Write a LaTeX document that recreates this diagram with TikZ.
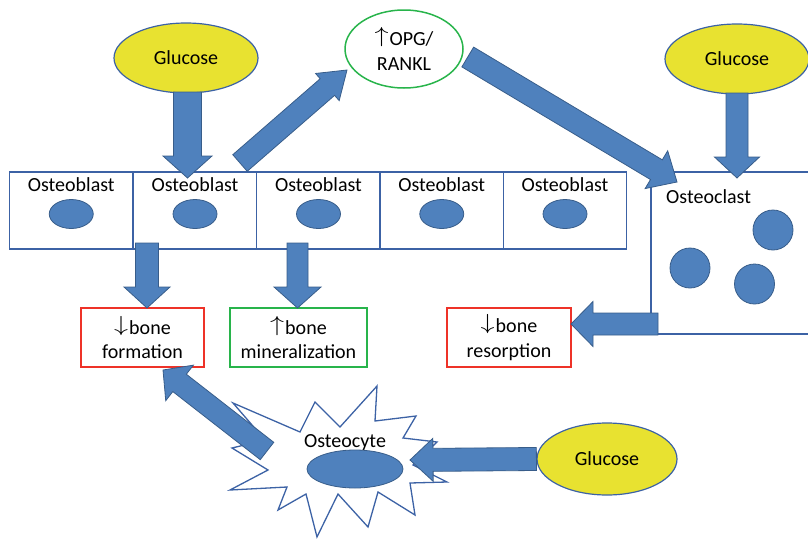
\documentclass[tikz,border=0pt]{standalone}
\usepackage{fontspec}
\usepackage{graphicx}
\setmainfont{Carlito}
\usetikzlibrary{calc,shapes.geometric}
\definecolor{abl}{RGB}{79,129,189}
\definecolor{abd}{RGB}{56,93,138}
\definecolor{lnb}{RGB}{60,98,165}
\definecolor{gy}{RGB}{232,226,48}
\definecolor{gg}{RGB}{40,180,75}
\definecolor{rr}{RGB}{238,50,40}
\newcommand\up{\raisebox{3pt}{\scalebox{1.35}[1.05]{\fontsize{22}{22}\selectfont$\uparrow$}}\kern1pt}
\newcommand\dn{\raisebox{3pt}{\scalebox{1.35}[1.05]{\fontsize{22}{22}\selectfont$\downarrow$}}\kern1pt}
% start, tip, half body, half head, head length
\newcommand\blockarr[5]{%
  \path ($(#2)!#5!(#1)$) coordinate (hb);
  \draw[barrow] ($(#1)!#3!90:(#2)$) -- ($(hb)!#3!-90:(#1)$) -- ($(hb)!#4!-90:(#1)$) -- (#2)
     -- ($(hb)!#4!90:(#1)$) -- ($(hb)!#3!90:(#1)$) -- ($(#1)!#3!-90:(#2)$) -- cycle;}
\begin{document}
\begin{tikzpicture}[x=1pt,y=-1pt,
  every node/.style={font=\fontsize{20}{24.5}\selectfont, inner sep=0pt},
  obox/.style={draw=lnb, line width=1.2pt, minimum width=123.5pt, minimum height=77pt},
  gluc/.style={ellipse, draw=lnb, line width=1.2pt, fill=gy, minimum width=144pt, minimum height=70pt},
  nucl/.style={ellipse, draw=abd, line width=0.8pt, fill=abl, minimum width=44pt, minimum height=29pt},
  cnuc/.style={circle, draw=abd, line width=0.8pt, fill=abl, minimum size=40pt},
  effbox/.style={draw=#1, line width=1.4pt, minimum height=59pt, align=center},
  barrow/.style={fill=abl, draw=abd, line width=0.8pt, line join=miter},
  lbl/.style={anchor=base}]
\useasboundingbox (0,0) rectangle (808,538);
% osteoblast row
\foreach \i/\x in {1/71.25,2/195,3/318.5,4/441.75,5/565}{
  \node[obox] (ob\i) at (\x,210.5) {};
  \node[lbl] (obt\i) at (\x,191) {Osteoblast};
  \node[nucl] (obn\i) at (\x,214) {};
}
% osteoclast
\draw[lnb, line width=1.2pt] (808,172) coordinate (oclr) -- (651,172) coordinate (ocl) -- (651,334) -- (808,334);
\node[lbl, anchor=base west] (oclt) at (666,203) {Osteoclast};
\node[cnuc] (oc1) at (773,230) {};
\node[cnuc] (oc2) at (690,268) {};
\node[cnuc] (oc3) at (754.5,284) {};
% glucose
\node[gluc] (g1) at (186,58) {Glucose};
\node[gluc] (g2) at (737,59) {Glucose};
\node[gluc, minimum width=140pt, minimum height=72pt] (g3) at (607,459) {Glucose};
% OPG
\node[ellipse, draw=gg, line width=1.5pt, minimum width=118pt, minimum height=78pt, align=center] (opg) at (404,49) {\up OPG/\\RANKL};
% effect boxes
\node[effbox=rr, minimum width=123pt] (bf) at (142.5,337.5) {\dn bone\\formation};
\node[effbox=gg, minimum width=137pt] (bm) at (298.5,337.5) {\up bone\\mineralization};
\node[effbox=rr, minimum width=124pt] (br) at (509,337.5) {\dn bone\\resorption};
% osteocyte
\draw[lnb, line width=1.3pt, fill=white] (233,403) -- (300,432) -- (315,402) -- (340,427) -- (377,386) -- (375,421)
  -- (416,416) -- (403,438) -- (437,442) -- (413,465) -- (447,482) -- (410,483) -- (415,515) -- (378,492)
  -- (368,527) -- (338,494) -- (317,537) -- (306,494) -- (278,510) -- (287,487) -- (230,490) -- (268,470)
  -- (232,448) -- (265,440) -- cycle;
\node[lbl] (oct) at (345,447) {Osteocyte};
\node[nucl, minimum width=96pt, minimum height=38pt] (ocn) at (355,469) {};
% arrow end points
\coordinate (a1s) at (187.5,92);
\coordinate (a1t) at (187.5,178);
\coordinate (a2s) at (240,163);
\coordinate (a2t) at (347,70);
\coordinate (a3s) at ($(opg.east)+(4,8)$);
\coordinate (a3t) at (677,182);
\coordinate (a4s) at (737,93);
\coordinate (a4t) at (737,178);
\coordinate (a5s) at (147,243);
\coordinate (a5t) at (147,308);
\coordinate (a6s) at (297.5,243);
\coordinate (a6t) at (297.5,308);
\coordinate (a7s) at (658,324);
\coordinate (a7t) at (571,324);
\coordinate (a8s) at (g3.west);
\coordinate (a8t) at (410,460);
\coordinate (a9s) at (267,451);
\coordinate (a9t) at (163,370);
% arrows
\blockarr{a1s}{a1t}{14pt}{24.5pt}{22pt}
\blockarr{a2s}{a2t}{11pt}{18pt}{26pt}
\blockarr{a3s}{a3t}{11.5pt}{22pt}{24pt}
\blockarr{a4s}{a4t}{11pt}{22.5pt}{21pt}
\blockarr{a5s}{a5t}{11.5pt}{23pt}{21pt}
\blockarr{a6s}{a6t}{10.5pt}{23.5pt}{21pt}
\blockarr{a7s}{a7t}{11pt}{22.5pt}{22pt}
\blockarr{a8s}{a8t}{11.5pt}{21.5pt}{23pt}
\blockarr{a9s}{a9t}{11pt}{22.5pt}{21pt}
\end{tikzpicture}
\end{document}
